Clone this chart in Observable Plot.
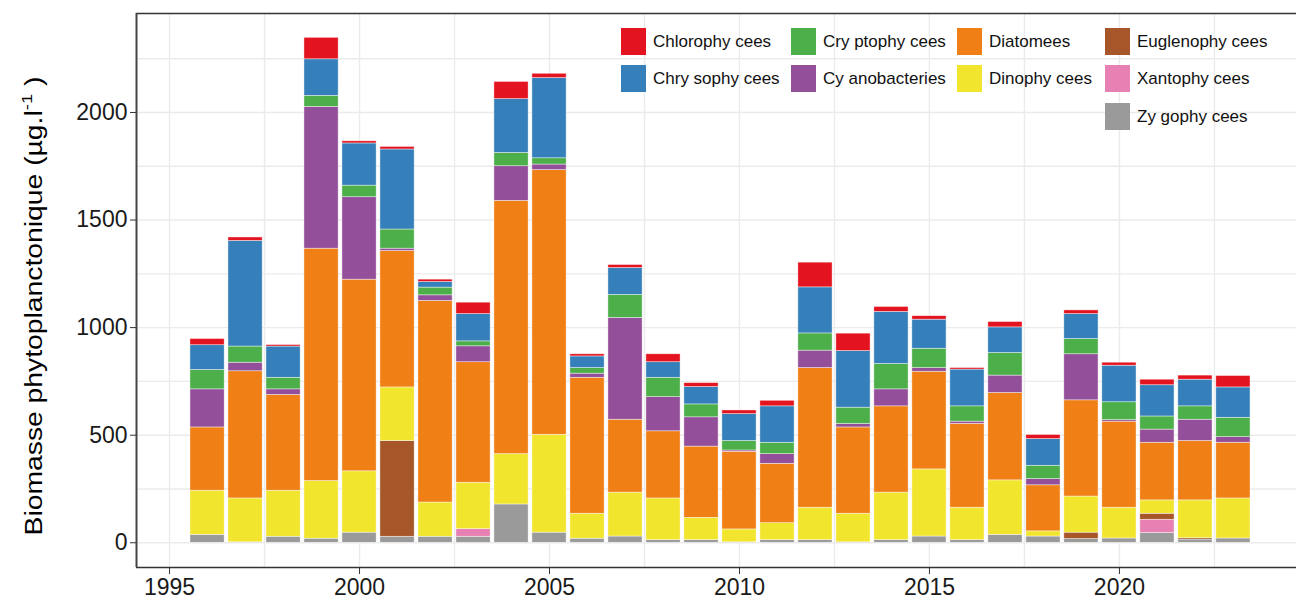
<!DOCTYPE html>
<html><head><meta charset="utf-8">
<script src="https://cdn.jsdelivr.net/npm/d3@7"></script>
<script src="https://cdn.jsdelivr.net/npm/@observablehq/plot@0.6"></script>
<style>
html,body{margin:0;padding:0;background:#fff;}
#wrap{position:relative;width:1296px;height:601px;overflow:hidden;font-family:"Liberation Sans",Arial,sans-serif;color:#1a1a1a;}
#wrap svg{position:absolute;left:0;top:0;}
.ytitle{position:absolute;left:34px;top:306px;transform:translate(-50%,-50%) rotate(-90deg) scaleX(1.23);white-space:nowrap;font-size:23px;color:#000;}
.ytitle sup{font-size:15px;vertical-align:10px;line-height:0;}
.sw{position:absolute;width:25px;height:27px;}
.lt{position:absolute;font-size:17px;line-height:27px;white-space:nowrap;color:#111;}
</style></head><body><div id="wrap"></div>
<script>
// ---- data ----
const years = [1996,1997,1998,1999,2000,2001,2002,2003,2004,2005,2006,2007,2008,2009,2010,2011,2012,2013,2014,2015,2016,2017,2018,2019,2020,2021,2022,2023];
const zygophycees    = [37,2,28,19,47,28,28,28,178,47,19,29,12,12,2,12,12,2,12,29,12,37,29,17,20,45,15,20];
const xantophycees   = [0,0,0,0,0,0,0,35,0,0,0,0,0,0,0,0,0,0,0,0,0,0,0,0,0,62,0,0];
const euglenophycees = [0,0,0,0,0,445,0,0,0,0,0,0,0,0,0,0,0,0,0,0,0,0,0,30,0,28,6,0];
const dinophycees    = [205,204,214,268,285,249,159,216,234,455,116,204,194,104,60,79,151,133,221,312,151,253,24,168,143,62,176,186];
const diatomees      = [294,591,445,1080,891,634,937,560,1177,1230,632,339,312,331,361,276,649,401,401,454,390,406,214,447,400,268,276,259];
const cyanobacteries = [177,40,26,659,383,11,26,74,161,26,19,473,159,136,6,45,81,16,79,17,10,81,29,214,7,61,99,26];
const cryptophycees  = [90,75,54,51,54,89,36,23,62,29,26,107,90,60,44,53,80,76,118,90,71,105,62,71,83,61,62,90];
const chrysophycees  = [115,491,145,170,196,372,26,127,250,373,54,125,72,81,125,169,214,263,242,135,171,119,124,116,170,145,124,141];
const chlorophycees  = [29,16,7,100,10,12,11,53,80,20,10,14,37,18,17,26,115,81,23,16,7,25,19,17,14,26,19,53];

// legend order (labels as shown)
const groups = ["Chlorophy cees","Chry sophy cees","Cry ptophy cees","Cy anobacteries","Diatomees","Dinophy cees","Euglenophy cees","Xantophy cees","Zy gophy cees"];
const groupColors = ["#e3141f","#3580ba","#4caf4a","#944f9a","#f07f16","#f2e52e","#a65628","#e881b3","#9a9a9a"];
// stack order, bottom to top
const stackGroups = ["Zy gophy cees","Xantophy cees","Euglenophy cees","Dinophy cees","Diatomees","Cy anobacteries","Cry ptophy cees","Chry sophy cees","Chlorophy cees"];
const stackValues = [zygophycees,xantophycees,euglenophycees,dinophycees,diatomees,cyanobacteries,cryptophycees,chrysophycees,chlorophycees];
const xTicks = [1995,2000,2005,2010,2015,2020];
const yTicks = [0,500,1000,1500,2000];

const rows = [];
stackGroups.forEach((g, i) => stackValues[i].forEach((v, j) => rows.push({year: years[j], group: g, value: v})));

const grid = {stroke: "#ebebeb", strokeOpacity: 1, strokeWidth: 1.4};
const chart = Plot.plot({
  width: 1296, height: 601,
  marginLeft: 136, marginRight: 0, marginTop: 13, marginBottom: 34,
  x: {domain: [1994.13, 2024.66]},
  y: {domain: [-115, 2460]},
  color: {domain: groups, range: groupColors},
  style: {fontFamily: "Liberation Sans, Arial, sans-serif", fontSize: "23px", color: "#1a1a1a", background: "transparent", overflow: "visible"},
  marks: [
    Plot.gridX(d3.range(1995, 2025, 2.5), grid),
    Plot.gridY(d3.range(0, 2500, 250), grid),
    Plot.rectY(rows, Plot.stackY({x1: d => d.year - 0.45, x2: d => d.year + 0.45, y: "value", fill: "group", stroke: "white", strokeWidth: 0.6, strokeOpacity: 0.7})),
    Plot.ruleY([-115, 2460], {stroke: "#333", strokeWidth: 1.5}),
    Plot.ruleX([1994.13], {stroke: "#444", strokeWidth: 2}),
    Plot.axisX(xTicks, {tickSize: 7, tickPadding: 4, tickFormat: d => String(d), stroke: "#333", fontSize: 23, label: null}),
    Plot.axisY(yTicks, {tickSize: 6, tickPadding: 3, tickFormat: d => String(d), stroke: "#333", fontSize: 23, label: null})
  ]
});
const wrap = document.getElementById("wrap");
wrap.appendChild(chart);

const yt = document.createElement("div");
yt.className = "ytitle";
yt.innerHTML = "Biomasse phytoplanctonique (µg.l<sup>-1</sup> )";
wrap.appendChild(yt);

// legend layout
const colX = [620.5, 790.5, 956.5, 1104.5];
const rowY = [27.5, 65, 102.5];
const legCol = [0,0,1,1,2,2,3,3,3];
const legRow = [0,1,0,1,0,1,0,1,2];
groups.forEach((g, i) => {
  const sw = document.createElement("div");
  sw.className = "sw";
  sw.style.left = colX[legCol[i]] + "px";
  sw.style.top = rowY[legRow[i]] + "px";
  sw.style.background = groupColors[i];
  wrap.appendChild(sw);
  const t = document.createElement("div");
  t.className = "lt";
  t.style.left = (colX[legCol[i]] + 32.5) + "px";
  t.style.top = rowY[legRow[i]] + "px";
  t.textContent = g;
  wrap.appendChild(t);
});
</script></body></html>
